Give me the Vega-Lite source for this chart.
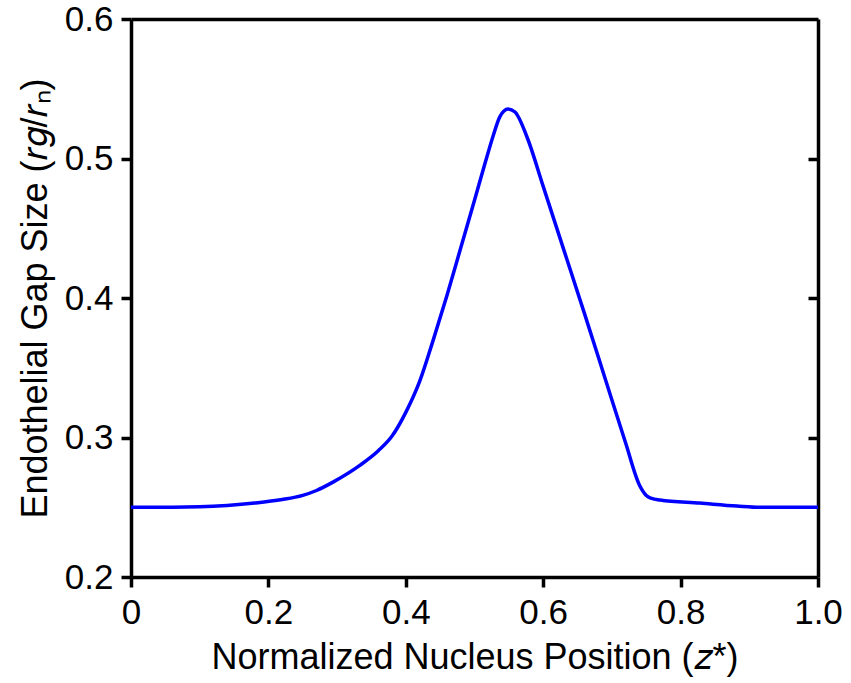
{
  "$schema": "https://vega.github.io/schema/vega-lite/v6.json",
  "width": 687,
  "height": 558,
  "autosize": {"type": "none"},
  "padding": {"left": 131, "top": 19, "right": 33, "bottom": 106},
  "background": "white",
  "config": {
    "view": {"stroke": null},
    "font": "Liberation Sans",
    "axis": {
      "domainColor": "black",
      "domainWidth": 3.5,
      "tickColor": "black",
      "tickWidth": 3.5,
      "tickSize": 10,
      "grid": false,
      "labelFont": "Liberation Sans",
      "labelFontSize": 35,
      "labelColor": "black",
      "titleFont": "Liberation Sans",
      "titleFontSize": 36,
      "titleFontWeight": "normal",
      "titleColor": "black"
    }
  },
  "data": {
    "values": [
      {"z": 0.0, "gap": 0.25},
      {"z": 0.06, "gap": 0.25},
      {"z": 0.1, "gap": 0.2503},
      {"z": 0.14, "gap": 0.2513},
      {"z": 0.18, "gap": 0.253},
      {"z": 0.22, "gap": 0.2555},
      {"z": 0.25, "gap": 0.2585},
      {"z": 0.27, "gap": 0.262},
      {"z": 0.294, "gap": 0.268},
      {"z": 0.333, "gap": 0.28},
      {"z": 0.36, "gap": 0.2905},
      {"z": 0.38, "gap": 0.301},
      {"z": 0.4, "gap": 0.318},
      {"z": 0.42, "gap": 0.34},
      {"z": 0.44, "gap": 0.37},
      {"z": 0.46, "gap": 0.402},
      {"z": 0.48, "gap": 0.436},
      {"z": 0.5, "gap": 0.47},
      {"z": 0.515, "gap": 0.496},
      {"z": 0.527, "gap": 0.516},
      {"z": 0.537, "gap": 0.53},
      {"z": 0.5488, "gap": 0.5355},
      {"z": 0.559, "gap": 0.5333},
      {"z": 0.5764, "gap": 0.5154},
      {"z": 0.6, "gap": 0.48},
      {"z": 0.63, "gap": 0.4345},
      {"z": 0.66, "gap": 0.389},
      {"z": 0.69, "gap": 0.3425},
      {"z": 0.72, "gap": 0.296},
      {"z": 0.74, "gap": 0.266},
      {"z": 0.75, "gap": 0.2585},
      {"z": 0.758, "gap": 0.2563},
      {"z": 0.77, "gap": 0.2552},
      {"z": 0.828, "gap": 0.253},
      {"z": 0.882, "gap": 0.2509},
      {"z": 0.9156, "gap": 0.25},
      {"z": 1.0, "gap": 0.25}
    ]
  },
  "layer": [
    {
      "mark": {"type": "line", "color": "#0000ff", "strokeWidth": 3.5, "interpolate": "monotone", "clip": true},
      "encoding": {
        "x": {
          "field": "z", "type": "quantitative",
          "scale": {"domain": [0, 1], "nice": false, "zero": false},
          "axis": {
            "orient": "bottom",
            "values": [0, 0.2, 0.4, 0.6, 0.8, 1.0],
            "labelExpr": "datum.value == 0 ? '0' : format(datum.value, '.1f')",
            "labelPadding": 8,
            "labelFlush": false,
            "title": "Normalized Nucleus Position (𝑧*)",
            "titlePadding": 10
          }
        },
        "y": {
          "field": "gap", "type": "quantitative",
          "scale": {"domain": [0.2, 0.6], "nice": false, "zero": false},
          "axis": {
            "orient": "left",
            "values": [0.2, 0.3, 0.4, 0.5, 0.6],
            "format": ".1f",
            "labelPadding": 8,
            "labelFlush": false,
            "title": "Endothelial Gap Size (𝑟𝑔/𝑟ₙ)",
            "titlePadding": 10
          }
        }
      }
    },
    {
      "mark": {"type": "line", "strokeOpacity": 0},
      "encoding": {
        "x": {
          "field": "z", "type": "quantitative",
          "scale": {"domain": [0, 1], "nice": false, "zero": false},
          "axis": {"orient": "top", "ticks": false, "labels": false, "title": null}
        },
        "y": {
          "field": "gap", "type": "quantitative",
          "scale": {"domain": [0.2, 0.6], "nice": false, "zero": false},
          "axis": {"orient": "right", "values": [0.3, 0.4, 0.5], "tickSize": -10, "labels": false, "title": null}
        }
      }
    }
  ],
  "resolve": {"axis": {"x": "independent", "y": "independent"}}
}
